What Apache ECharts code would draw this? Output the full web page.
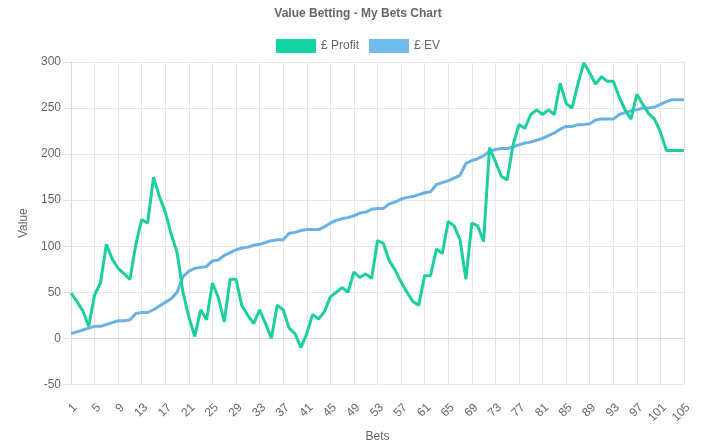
<!DOCTYPE html>
<html>
<head>
<meta charset="utf-8">
<script src="https://cdn.jsdelivr.net/npm/echarts@6/dist/echarts.min.js"></script>
<style>
html,body{margin:0;padding:0;background:#fff;}
#chart{width:716px;height:448px;}
</style>
</head>
<body>
<div id="chart"></div>
<script>
var chartTitle = 'Value Betting - My Bets Chart';
var seriesNames = ['£ Profit', '£ EV'];
var bets = [];
for (var i = 1; i <= 105; i++) bets.push(String(i));
var profit = [49,40,30,13,47,60,102,86,76,70,64,102,129,125,175,154,137,113,93,50,23,2,31,20,60,44,18,64,64,35,25,16,31,16,0,36,31,11,5,-10,5,26,21,29,45,50,55,50,72,66,70,65,106,103,84,74,61,50,40,36,68,68,97,92,127,122,107,64,125,122,105,207,192,176,172,210,232,228,243,248,243,248,243,277,255,250,276,299,288,276,284,279,279,262,248,238,265,254,244,238,224,204,204,204,204];
var ev = [5,7,9,11,13,13,15,17,19,19,20,27,28,28,31,35,39,43,50,67,73,76,77,78,84,85,90,93,96,98,99,101,102,104,106,107,107,114,115,117,118,118,118,121,125,128,130,131,133,136,137,140,141,141,146,148,151,153,154,156,158,159,167,169,171,174,177,190,193,195,198,203,205,206,206,208,210,212,213,215,217,220,223,227,230,230,232,232,233,237,238,238,238,243,245,247,248,250,250,251,254,257,259,259,259];
var yMin = -50, yMax = 300, yStep = 50;

var font = 'Arial, "Liberation Sans", Helvetica, sans-serif';
var chart = echarts.init(document.getElementById('chart'));
chart.setOption({
  animation: false,
  title: {
    text: chartTitle,
    left: 'center',
    top: 3,
    textStyle: { fontFamily: font, fontSize: 12, fontWeight: 'bold', color: '#666' }
  },
  legend: {
    top: 34,
    left: 'center',
    itemWidth: 40,
    itemHeight: 14,
    itemGap: 10,
    icon: 'rect',
    textStyle: { fontFamily: font, fontSize: 12, color: '#666' },
    data: seriesNames
  },
  grid: { left: 71, right: 32, top: 62, bottom: 63 },
  xAxis: {
    type: 'category',
    data: bets,
    boundaryGap: false,
    name: 'Bets',
    nameLocation: 'middle',
    nameGap: 43,
    nameTextStyle: { fontFamily: font, fontSize: 12, color: '#666' },
    axisLine: { show: true, lineStyle: { color: '#d9d9d9' } },
    axisTick: { show: true, interval: 3, length: 8, lineStyle: { color: '#e0e0e0' } },
    splitLine: { show: true, interval: 3, lineStyle: { color: '#e6e6e6' } },
    axisLabel: { interval: 3, rotate: 45, verticalAlign: 'top', fontFamily: font, fontSize: 12, color: '#666', margin: 17 }
  },
  yAxis: {
    type: 'value',
    min: yMin,
    max: yMax,
    interval: yStep,
    name: 'Value',
    nameLocation: 'middle',
    nameGap: 35,
    nameTextStyle: { fontFamily: font, fontSize: 12, color: '#666' },
    axisLine: { show: true, lineStyle: { color: '#d9d9d9' } },
    axisTick: { show: true, length: 8, lineStyle: { color: '#e0e0e0' } },
    splitLine: { show: true, lineStyle: { color: '#e6e6e6' } },
    axisLabel: { fontFamily: font, fontSize: 12, color: '#666', margin: 10 }
  },
  series: [
    {
      name: seriesNames[0],
      type: 'line',
      data: profit,
      showSymbol: false,
      symbol: 'none',
      itemStyle: { color: '#14d3a3' },
      lineStyle: { color: '#1ccf9e', width: 3 },
      z: 3
    },
    {
      name: seriesNames[1],
      type: 'line',
      data: ev,
      showSymbol: false,
      symbol: 'none',
      itemStyle: { color: '#72bbef' },
      lineStyle: { color: '#6cb1e6', width: 3 },
      z: 2
    }
  ]
});
</script>
</body>
</html>
